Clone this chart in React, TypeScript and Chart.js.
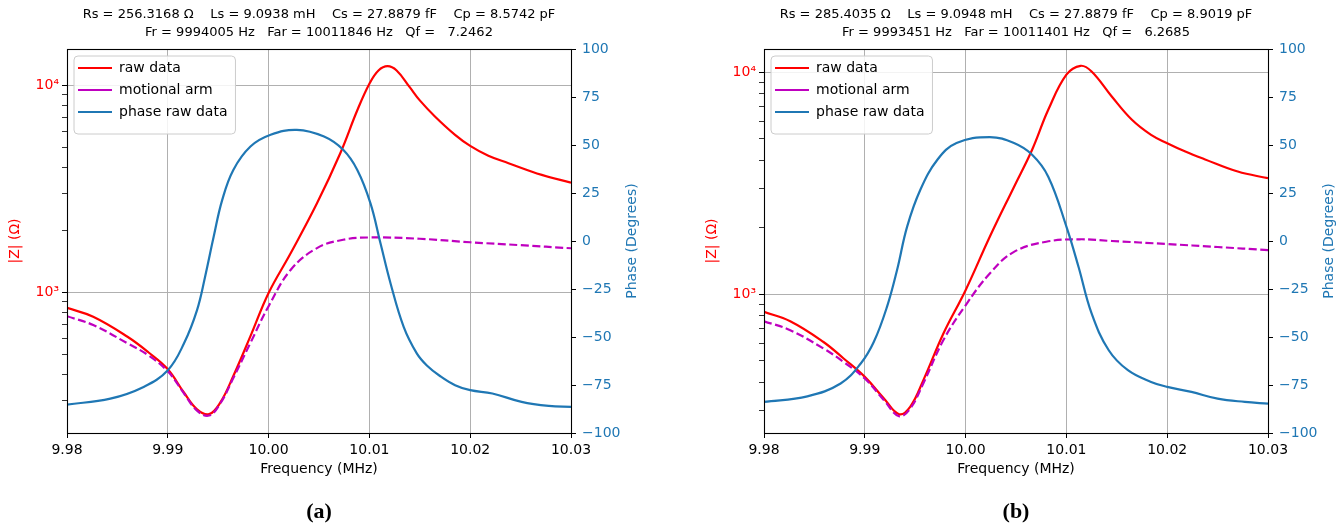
import React, { useEffect, useRef } from 'react';
import { Chart, registerables } from 'chart.js';

Chart.register(...registerables);
Chart.defaults.font.family = '"DejaVu Sans", sans-serif';
Chart.defaults.color = '#000';

// ---------- shared axis settings ----------
const X_TICKS = [9.98, 9.99, 10.0, 10.01, 10.02, 10.03];
const PHASE_TICKS = [-100, -75, -50, -25, 0, 25, 50, 75, 100];
const X_TITLE = 'Frequency (MHz)';
const Z_TITLE = '|Z| (Ω)';
const PHASE_TITLE = 'Phase (Degrees)';
const SERIES_LABELS = ['raw data', 'motional arm', 'phase raw data'];

// ---------- panel (a) ----------
const titleA = [
  'Rs = 256.3168 Ω    Ls = 9.0938 mH    Cs = 27.8879 fF    Cp = 8.5742 pF',
  'Fr = 9994005 Hz   Far = 10011846 Hz   Qf =   7.2462',
];
const captionA = '(a)';
const zRangeA = [209, 15000];

const freqRawA = [9.98, 9.9826, 9.986, 9.9881, 9.99, 9.9916, 9.9929, 9.9941, 9.9952, 9.9965, 9.9982, 10.0, 10.0022, 10.0048, 10.0071, 10.0088, 10.01, 10.0109, 10.0118, 10.0127, 10.014, 10.015, 10.0165, 10.0185, 10.02, 10.0218, 10.0238, 10.0271, 10.03];
const zRawA = [841, 762, 610, 512, 425, 328, 272, 258, 293, 394, 614, 993, 1549, 2693, 4689, 7586, 10190, 11810, 12390, 11810, 9813, 8467, 7080, 5770, 5100, 4570, 4210, 3696, 3390];

const freqMotA = [9.98, 9.9826, 9.986, 9.9881, 9.99, 9.9916, 9.9929, 9.9941, 9.9952, 9.9965, 9.9982, 10.0, 10.0022, 10.0048, 10.0074, 10.01, 10.015, 10.02, 10.025, 10.03];
const zMotA = [767, 695, 567, 495, 415, 325, 268, 254, 290, 385, 570, 857, 1285, 1636, 1795, 1841, 1815, 1746, 1690, 1633];

const freqPhA = [9.98, 9.9843, 9.9876, 9.99, 9.9916, 9.9929, 9.9937, 9.99455, 9.9954, 9.9965, 9.9982, 10.0002, 10.0028, 10.0055, 10.0074, 10.0088, 10.0101, 10.0111, 10.0121, 10.0134, 10.0147, 10.0157, 10.017, 10.0185, 10.02, 10.0222, 10.0251, 10.0278, 10.03];
const phaseA = [-85.2, -82.1, -76.0, -67.3, -53.4, -36.0, -18.6, 2.2, 21.4, 37.0, 49.2, 55.3, 57.9, 54.4, 47.5, 37.0, 19.7, -1.2, -22.1, -44.7, -58.5, -64.8, -70.3, -75.1, -77.7, -79.4, -83.8, -85.9, -86.4];

// ---------- panel (b) ----------
const titleB = [
  'Rs = 285.4035 Ω    Ls = 9.0948 mH    Cs = 27.8879 fF    Cp = 8.9019 pF',
  'Fr = 9993451 Hz   Far = 10011401 Hz   Qf =   6.2685',
];
const captionB = '(b)';
const zRangeB = [237, 12700];

const freqRawB = [9.98, 9.9826, 9.9859, 9.9879, 9.99, 9.9919, 9.9934, 9.9945, 9.9958, 9.9978, 10.0, 10.0024, 10.0048, 10.0066, 10.0082, 10.01, 10.0114, 10.0125, 10.0145, 10.0165, 10.0184, 10.02, 10.0218, 10.0237, 10.027, 10.03];
const zRawB = [832, 755, 609, 513, 424, 339, 288, 311, 409, 665, 1042, 1813, 3040, 4468, 6760, 9728, 10670, 10060, 7760, 6097, 5215, 4783, 4386, 4053, 3565, 3327];

const freqMotB = [9.98, 9.9826, 9.9859, 9.9879, 9.99, 9.9919, 9.9934, 9.9945, 9.9958, 9.9978, 10.0, 10.0024, 10.0048, 10.008, 10.0113, 10.0145, 10.02, 10.025, 10.03];
const zMotB = [755, 688, 569, 495, 417, 333, 282, 305, 396, 621, 891, 1239, 1550, 1722, 1766, 1735, 1681, 1630, 1578];

const freqPhB = [9.98, 9.9843, 9.9876, 9.9896, 9.9909, 9.9922, 9.9932, 9.9942, 9.9955, 9.9972, 9.9991, 10.0024, 10.0048, 10.0066, 10.0082, 10.01, 10.0112, 10.0125, 10.0142, 10.0161, 10.0184, 10.02, 10.0224, 10.025, 10.0277, 10.03];
const phaseB = [-83.8, -80.9, -74.2, -63.8, -52.5, -34.3, -15.1, 7.5, 26.6, 42.3, 51.0, 54.1, 51.0, 44.9, 33.5, 7.5, -13.4, -37.7, -56.9, -67.3, -73.4, -76.0, -78.6, -82.1, -83.8, -84.7];

// ---------- helpers ----------
const zip = (xs: number[], ys: number[]) => xs.map((x, i) => ({ x, y: ys[i] }));
const SUP: Record<number, string> = { 2: '²', 3: '³', 4: '⁴' };

const LEG_PAD = 8;
const LEG_FONT = 14;
const LEG_BOX_W = 34;

function drawLegendFrame(chart: any) {
  const lg = chart.legend;
  if (!lg || !lg.legendItems) return;
  const ctx = chart.ctx as CanvasRenderingContext2D;
  ctx.save();
  ctx.font = `${LEG_FONT}px "DejaVu Sans"`;
  const maxW = Math.max(...lg.legendItems.map((it: any) => ctx.measureText(it.text).width));
  const n = lg.legendItems.length;
  const x0 = lg.left + LEG_PAD - 4;
  const y0 = lg.top + LEG_PAD - 5;
  const w = 4 + LEG_BOX_W + LEG_FONT / 2 + maxW + 8;
  const h = n * (LEG_FONT + LEG_PAD) + 12;
  const r = 4;
  ctx.beginPath();
  ctx.moveTo(x0 + r, y0);
  ctx.lineTo(x0 + w - r, y0);
  ctx.arcTo(x0 + w, y0, x0 + w, y0 + r, r);
  ctx.lineTo(x0 + w, y0 + h - r);
  ctx.arcTo(x0 + w, y0 + h, x0 + w - r, y0 + h, r);
  ctx.lineTo(x0 + r, y0 + h);
  ctx.arcTo(x0, y0 + h, x0, y0 + h - r, r);
  ctx.lineTo(x0, y0 + r);
  ctx.arcTo(x0, y0, x0 + r, y0, r);
  ctx.closePath();
  ctx.fillStyle = 'rgba(255,255,255,0.85)';
  ctx.fill();
  ctx.strokeStyle = '#cccccc';
  ctx.lineWidth = 1;
  ctx.stroke();
  ctx.restore();
}

const mplPlugin = {
  id: 'mplLook',
  beforeLayout(chart: any) {
    const lg = chart.legend;
    if (lg && !lg.__patched) {
      lg.__patched = true;
      lg._layers = () => [
        {
          z: 1,
          draw: (area: any) => {
            drawLegendFrame(chart);
            lg.draw(area);
          },
        },
      ];
    }
  },
  afterLayout(chart: any) {
    const lg = chart.legend;
    const ca = chart.chartArea;
    if (lg && ca) {
      lg.left = ca.left + 3;
      lg.top = ca.top + 4;
      lg.right = ca.right;
      lg.bottom = ca.bottom;
      lg.width = ca.right - lg.left;
      lg.height = ca.bottom - lg.top;
    }
  },
  afterDatasetsDraw(chart: any) {
    const { left, top, right, bottom } = chart.chartArea;
    const ctx = chart.ctx as CanvasRenderingContext2D;
    ctx.save();
    ctx.strokeStyle = '#000';
    ctx.lineWidth = 1.1;
    ctx.strokeRect(Math.round(left) + 0.5, Math.round(top) + 0.5, Math.round(right) - Math.round(left), Math.round(bottom) - Math.round(top));
    ctx.restore();
  },
  afterDraw(chart: any) {
    const { right, top, bottom } = chart.chartArea;
    const ctx = chart.ctx as CanvasRenderingContext2D;
    ctx.save();
    ctx.translate(right + 61, (top + bottom) / 2);
    ctx.rotate(-Math.PI / 2);
    ctx.textAlign = 'center';
    ctx.textBaseline = 'middle';
    ctx.fillStyle = '#1f77b4';
    ctx.font = '14px "DejaVu Sans"';
    ctx.fillText(PHASE_TITLE, 0, 0);
    ctx.restore();
  },
};

type PanelData = {
  title: string[];
  caption: string;
  zRange: number[];
  freqRaw: number[];
  zRaw: number[];
  freqMot: number[];
  zMot: number[];
  freqPh: number[];
  phase: number[];
};

function buildConfig(p: PanelData): any {
  return {
    type: 'line',
    data: {
      datasets: [
        {
          label: SERIES_LABELS[0],
          data: zip(p.freqRaw, p.zRaw),
          borderColor: '#ff0000',
          backgroundColor: '#ff0000',
          borderWidth: 2.2,
          pointRadius: 0,
          tension: 0.4,
          yAxisID: 'y',
          order: 3,
        },
        {
          label: SERIES_LABELS[1],
          data: zip(p.freqMot, p.zMot),
          borderColor: '#bf00bf',
          backgroundColor: '#bf00bf',
          borderWidth: 2.2,
          borderDash: [8, 3.5],
          pointRadius: 0,
          tension: 0.4,
          yAxisID: 'y',
          order: 2,
        },
        {
          label: SERIES_LABELS[2],
          data: zip(p.freqPh, p.phase),
          borderColor: '#1f77b4',
          backgroundColor: '#1f77b4',
          borderWidth: 2.2,
          pointRadius: 0,
          tension: 0.4,
          yAxisID: 'y1',
          order: 1,
        },
      ],
    },
    options: {
      responsive: false,
      animation: false,
      events: [],
      layout: { padding: 0 },
      scales: {
        x: {
          type: 'linear',
          min: X_TICKS[0],
          max: X_TICKS[X_TICKS.length - 1],
          afterBuildTicks: (s: any) => {
            s.ticks = X_TICKS.map((v) => ({ value: v }));
          },
          afterFit: (s: any) => {
            s.height = 67;
          },
          ticks: {
            autoSkip: false,
            maxRotation: 0,
            padding: 4,
            color: '#000',
            font: { size: 14 },
            callback: (v: any) => Number(v).toFixed(2),
          },
          grid: { color: '#b0b0b0', lineWidth: 1, tickColor: '#000', tickLength: 5 },
          border: { color: '#000', width: 1 },
          title: { display: true, text: X_TITLE, color: '#000', font: { size: 14 }, padding: { top: 0, bottom: 22 } },
        },
        y: {
          type: 'logarithmic',
          position: 'left',
          min: p.zRange[0],
          max: p.zRange[1],
          afterBuildTicks: (s: any) => {
            const t: any[] = [];
            for (let e = 2; e <= 4; e++) {
              for (let m = 1; m <= 9; m++) {
                const v = m * Math.pow(10, e);
                if (v >= s.min && v <= s.max) t.push({ value: v, major: m === 1 });
              }
            }
            s.ticks = t;
          },
          afterFit: (s: any) => {
            s.width = 67;
          },
          ticks: {
            autoSkip: false,
            padding: 3,
            color: '#ff0000',
            font: { size: 14 },
            callback: (v: any) => {
              const e = Math.round(Math.log10(v));
              return Math.abs(Math.pow(10, e) - v) < 1e-6 ? '10' + SUP[e] : '';
            },
          },
          grid: {
            color: (c: any) => {
              const v = c.tick ? c.tick.value : 0;
              return v === 1000 || v === 10000 ? '#b0b0b0' : 'rgba(0,0,0,0)';
            },
            lineWidth: 1,
            tickColor: '#000',
            tickWidth: (c: any) => {
              const v = c.tick ? c.tick.value : 0;
              return v === 1000 || v === 10000 ? 1 : 0.8;
            },
            tickLength: 5,
          },
          border: { color: '#000', width: 1 },
          title: { display: true, text: Z_TITLE, color: '#ff0000', font: { size: 14 }, padding: { top: 6.6, bottom: 0 } },
        },
        y1: {
          type: 'linear',
          position: 'right',
          min: PHASE_TICKS[0],
          max: PHASE_TICKS[PHASE_TICKS.length - 1],
          afterBuildTicks: (s: any) => {
            s.ticks = PHASE_TICKS.map((v) => ({ value: v }));
          },
          afterFit: (s: any) => {
            s.width = 76;
          },
          ticks: {
            autoSkip: false,
            padding: 6,
            color: '#1f77b4',
            font: { size: 14 },
            callback: (v: any) => (v < 0 ? '\u2212' + Math.abs(v) : String(v)),
          },
          grid: { drawOnChartArea: false, tickColor: '#000', tickLength: 5 },
          border: { color: '#000', width: 1 },
        },
      },
      plugins: {
        tooltip: { enabled: false },
        title: {
          display: true,
          fullSize: false,
          text: p.title,
          color: '#000',
          font: { size: 13, weight: 'normal', lineHeight: '18px' },
          padding: { top: 6, bottom: 7 },
        },
        subtitle: {
          display: true,
          fullSize: false,
          position: 'bottom',
          text: p.caption,
          color: '#000',
          font: { family: '"Liberation Serif", serif', size: 22, weight: 'bold', lineHeight: '24px' },
          padding: { top: 0, bottom: 5 },
        },
        legend: {
          position: 'chartArea',
          align: 'start',
          labels: {
            usePointStyle: true,
            pointStyle: 'line',
            pointStyleWidth: LEG_BOX_W,
            boxHeight: LEG_FONT,
            padding: LEG_PAD,
            color: '#000',
            font: { size: LEG_FONT },
            sort: (a: any, b: any) => a.datasetIndex - b.datasetIndex,
          },
        },
      },
    },
    plugins: [mplPlugin],
  };
}

const PANEL_W = 647;
const PANEL_H = 529;

function Panel({ data, left }: { data: PanelData; left: number }) {
  const ref = useRef<HTMLCanvasElement>(null);
  useEffect(() => {
    const chart = new Chart(ref.current as HTMLCanvasElement, buildConfig(data));
    return () => chart.destroy();
  }, []);
  return (
    <div style={{ position: 'absolute', left, top: 0, width: PANEL_W, height: PANEL_H }}>
      <canvas ref={ref} width={PANEL_W} height={PANEL_H} style={{ display: 'block', width: PANEL_W, height: PANEL_H }} />
    </div>
  );
}

export default function App() {
  const a: PanelData = { title: titleA, caption: captionA, zRange: zRangeA, freqRaw: freqRawA, zRaw: zRawA, freqMot: freqMotA, zMot: zMotA, freqPh: freqPhA, phase: phaseA };
  const b: PanelData = { title: titleB, caption: captionB, zRange: zRangeB, freqRaw: freqRawB, zRaw: zRawB, freqMot: freqMotB, zMot: zMotB, freqPh: freqPhB, phase: phaseB };
  return (
    <div style={{ position: 'absolute', left: 0, top: 0, width: 1344, height: 529, background: '#fff' }}>
      <Panel data={a} left={0} />
      <Panel data={b} left={697} />
    </div>
  );
}
